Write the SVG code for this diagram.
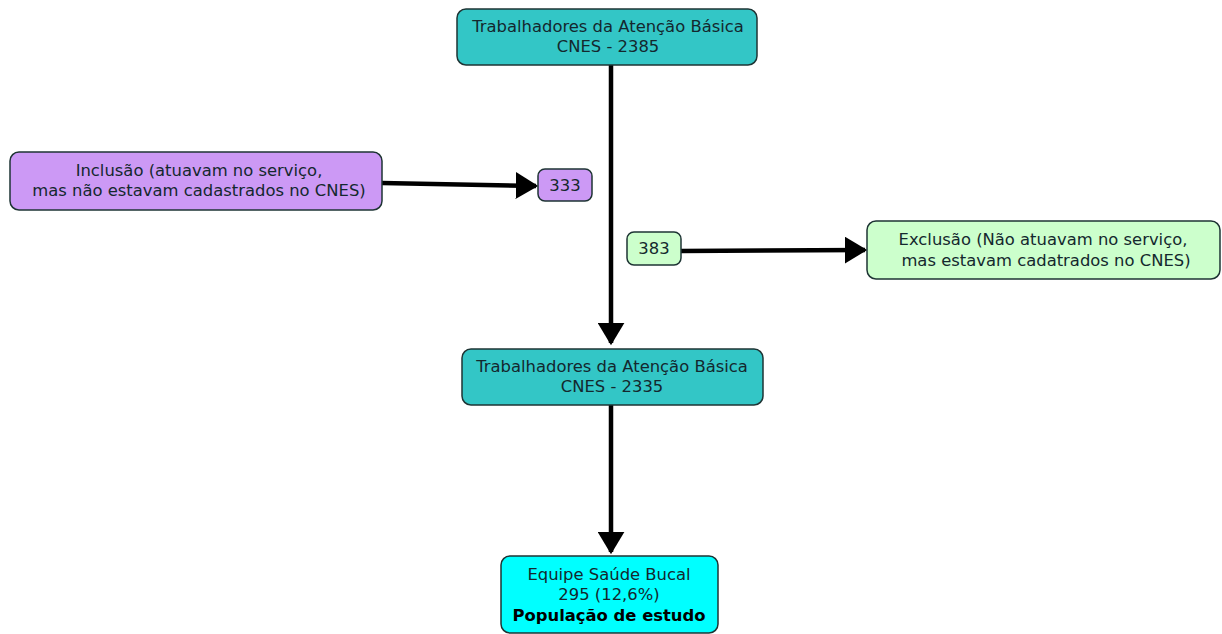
<svg xmlns="http://www.w3.org/2000/svg" width="1222" height="634" viewBox="0 0 1222 634">
<defs>
<style>
.box{stroke:#1e3434;stroke-width:1.5}
.t{font-family:"DejaVu Sans",Verdana,sans-serif;font-size:16.4px;fill:#14282e;text-anchor:middle}
.b{font-weight:bold;fill:#000}
.c{stroke:#000;stroke-width:4.5;fill:none}
</style>
<marker id="ah" markerWidth="6" markerHeight="6" refX="4.5" refY="3" orient="auto" markerUnits="strokeWidth" viewBox="0 0 6 6">
<path d="M0,0 L5,3 L0,6 z" fill="#000"/>
</marker>
</defs>
<rect width="1222" height="634" fill="#fff"/>
<g id="connectors">
<line class="c" x1="611" y1="65" x2="611" y2="343" marker-end="url(#ah)"/>
<line class="c" x1="382" y1="183" x2="536" y2="186" marker-end="url(#ah)"/>
<line class="c" x1="681" y1="251" x2="865" y2="250" marker-end="url(#ah)"/>
<line class="c" x1="611" y1="405" x2="611" y2="552" marker-end="url(#ah)"/>
</g>
<g id="n1"><rect class="box" x="457" y="9" width="300" height="56" rx="9" fill="#33c6c6"/>
<text class="t" x="608" y="32">Trabalhadores da Atenção Básica</text><text class="t" x="608" y="52">CNES - 2385</text></g>
<g id="n2"><rect class="box" x="10" y="152" width="372" height="58" rx="9" fill="#cc99f5"/>
<text class="t" x="199" y="176">Inclusão (atuavam no serviço,</text><text class="t" x="199" y="196">mas não estavam cadastrados no CNES)</text></g>
<g id="n3"><rect class="box" x="538" y="169" width="54" height="32" rx="7" fill="#cc99f5"/>
<text class="t" x="565" y="191">333</text></g>
<g id="n4"><rect class="box" x="627" y="232" width="54" height="33" rx="7" fill="#ccffcc"/>
<text class="t" x="654" y="254">383</text></g>
<g id="n5"><rect class="box" x="867" y="221" width="353" height="58" rx="9" fill="#ccffcc"/>
<text class="t" x="1043" y="245">Exclusão (Não atuavam no serviço,</text><text class="t" x="1046" y="266">mas estavam cadatrados no CNES)</text></g>
<g id="n6"><rect class="box" x="462" y="349" width="301" height="56" rx="9" fill="#33c6c6"/>
<text class="t" x="612" y="372">Trabalhadores da Atenção Básica</text><text class="t" x="612" y="392">CNES - 2335</text></g>
<g id="n7"><rect class="box" x="501" y="556" width="217" height="77" rx="9" fill="#00ffff"/>
<text class="t" x="609" y="580">Equipe Saúde Bucal</text><text class="t" x="609" y="600">295 (12,6%)</text><text class="t b" x="609" y="621">População de estudo</text></g>
</svg>
